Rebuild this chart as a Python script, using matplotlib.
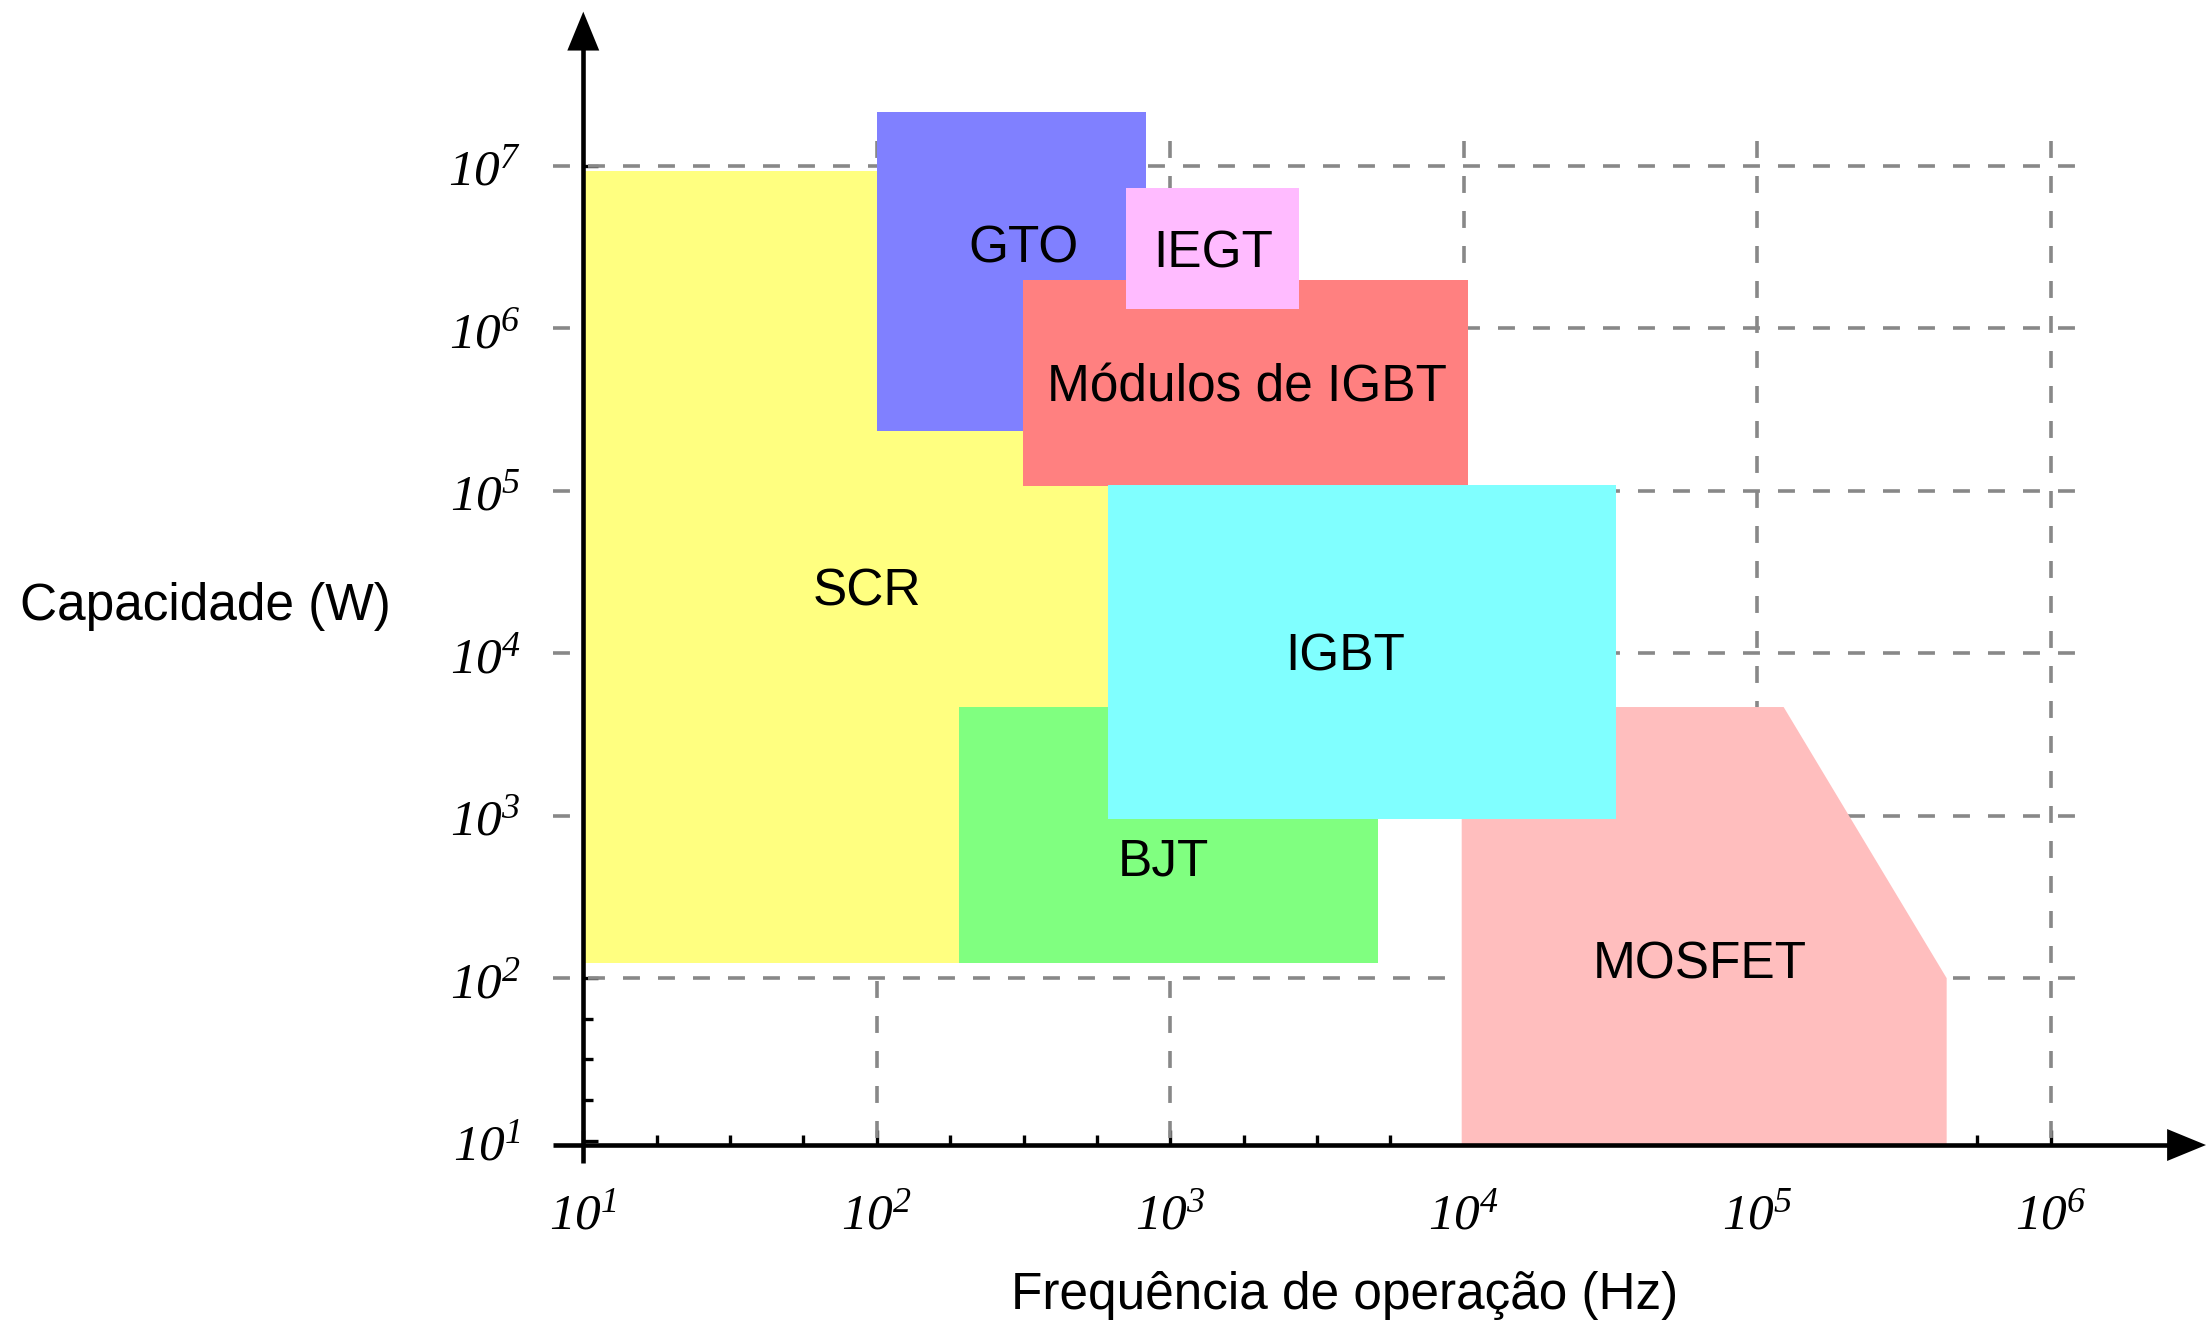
import numpy as np
import matplotlib
matplotlib.use('Agg')
import matplotlib.pyplot as plt
from matplotlib.patches import Rectangle
from matplotlib.ticker import NullFormatter

plt.rcParams['font.family'] = ['Liberation Sans', 'DejaVu Sans']
# rotulos dos eixos em Times italico (digitos inclusive)
plt.rcParams['mathtext.fontset'] = 'custom'
plt.rcParams['mathtext.rm'] = 'Liberation Serif'
plt.rcParams['mathtext.sf'] = 'Liberation Serif:italic'
plt.rcParams['lines.scale_dashes'] = False

# faixas de cada dispositivo: frequencia (Hz) e capacidade (W)
dev_names = ['SCR', 'GTO', 'Módulos de IGBT', 'IEGT', 'BJT', 'IGBT']
f_min = [10, 100, 316, 709, 191, 615]
f_max = [631, 826, 1.03e4, 2.75e3, 5.12e3, 3.29e4]
p_min = [124, 2.34e5, 1.07e5, 1.32e6, 124, 955]
p_max = [9.31e6, 2.14e7, 1.98e6, 7.28e6, 4.69e3, 1.09e5]
dev_colors = ['#ffff80', '#8080ff', '#ff8080', '#ffbbff', '#80ff80', '#80ffff']

# posicao dos nomes (linha de base)
label_f = [92.6, 316, 1824, 1398, 944, 3936]
label_p = [1.98e4, 2.56e6, 3.53e5, 2.38e6, 431, 7880]

# MOSFET tem o canto superior direito inclinado
mos_f = [9.84e3, 9.84e3, 1.23e5, 4.42e5, 4.42e5]
mos_p = [9.4, 4.67e3, 4.67e3, 100, 9.4]
mos_color = '#ffbebe'
mos_label = (6.38e4, 100)

x_major = [1e1, 1e2, 1e3, 1e4, 1e5, 1e6]
y_major = [1e1, 1e2, 1e3, 1e4, 1e5, 1e6, 1e7]
x_ticklabels = [r'$\mathsf{10^{%d}}$' % e for e in range(1, 7)]
y_ticklabels = [r'$\mathsf{10^{%d}}$' % e for e in range(1, 8)]

fig = plt.figure(figsize=(22.06, 13.23), dpi=100)
ax = fig.add_axes([0, 0, 1, 1])
ax.set_xscale('log')
ax.set_yscale('log')
ax.set_xlim(10**-0.9874, 10**6.529)
ax.set_ylim(10**-0.1227, 10**8.0218)
ax.patch.set_visible(False)

x_axis_at = 10**0.973
for s in ['top', 'right']:
    ax.spines[s].set_visible(False)
ax.spines['left'].set_position(('data', 10))
ax.spines['bottom'].set_position(('data', x_axis_at))
ax.spines['left'].set_bounds(10**0.86, 10**7.72)
ax.spines['bottom'].set_bounds(10**0.898, 10**6.42)
for s in ['left', 'bottom']:
    ax.spines[s].set_linewidth(3.3)
    ax.spines[s].set_zorder(3)
    ax.spines[s].set_capstyle('butt')

# ticks: 4 subdivisoes por decada
x_minor = [10**(k + q) for k in range(1, 6) for q in (0.25, 0.5, 0.75)]
y_minor = [10**(k + q) for k in range(1, 7) for q in (0.25, 0.5, 0.75)]
ax.set_xticks(x_major, labels=x_ticklabels)
ax.set_yticks(y_major, labels=y_ticklabels)
ax.set_xticks(x_minor, minor=True)
ax.set_yticks(y_minor, minor=True)
ax.xaxis.set_minor_formatter(NullFormatter())
ax.yaxis.set_minor_formatter(NullFormatter())
ax.tick_params(which='major', direction='in', length=10.8, width=2.4, labelsize=37)
ax.tick_params(which='minor', direction='in', length=7.2, width=2.4)
ax.tick_params(axis='x', which='major', pad=33)
ax.tick_params(axis='y', which='major', pad=45)

# grade tracejada
grid_col = '#888888'
for gy in y_major[1:]:
    ax.plot([10**0.898, 10**6.105], [gy, gy], color=grid_col, lw=2.6,
            dashes=(12.2, 13), zorder=2)
for gx in x_major[1:]:
    ax.plot([gx, gx], [10**7.156, x_axis_at], color=grid_col, lw=2.6,
            dashes=(12.2, 13), zorder=2)

# regioes
def draw_dev(i):
    ax.add_patch(Rectangle((f_min[i], p_min[i]), f_max[i] - f_min[i],
                           p_max[i] - p_min[i], facecolor=dev_colors[i],
                           lw=0, zorder=2.6))

for i in range(4):
    draw_dev(i)
ax.fill(mos_f, mos_p, color=mos_color, lw=0, zorder=2.6)
draw_dev(4)
draw_dev(5)

for name, lf, lp in zip(dev_names, label_f, label_p):
    ax.text(lf, lp, name, ha='center', va='baseline', fontsize=37, zorder=4)
ax.text(mos_label[0], mos_label[1], 'MOSFET', ha='center', va='baseline',
        fontsize=37, zorder=4)

# setas dos eixos
head = dict(arrowstyle='-|>,head_length=2.8,head_width=1.15', mutation_scale=10,
            color='black', lw=0, shrinkA=0, shrinkB=0)
ax.annotate('', xy=(10, 10**7.95), xytext=(10, 10**7.5), arrowprops=head,
            annotation_clip=False, zorder=5)
ax.annotate('', xy=(10**6.529, x_axis_at), xytext=(10**6.2, x_axis_at),
            arrowprops=head, annotation_clip=False, zorder=5)

ax.set_xlabel('Frequência de operação (Hz)', fontsize=37, va='baseline')
ax.xaxis.set_label_coords(1344.6 / 2206, 1 - 1309 / 1323)
ax.set_ylabel('Capacidade (W)', fontsize=37, rotation=0, ha='center', va='baseline')
ax.yaxis.set_label_coords(205.4 / 2206, 1 - 620 / 1323)

fig.savefig('out.png', dpi=100)
